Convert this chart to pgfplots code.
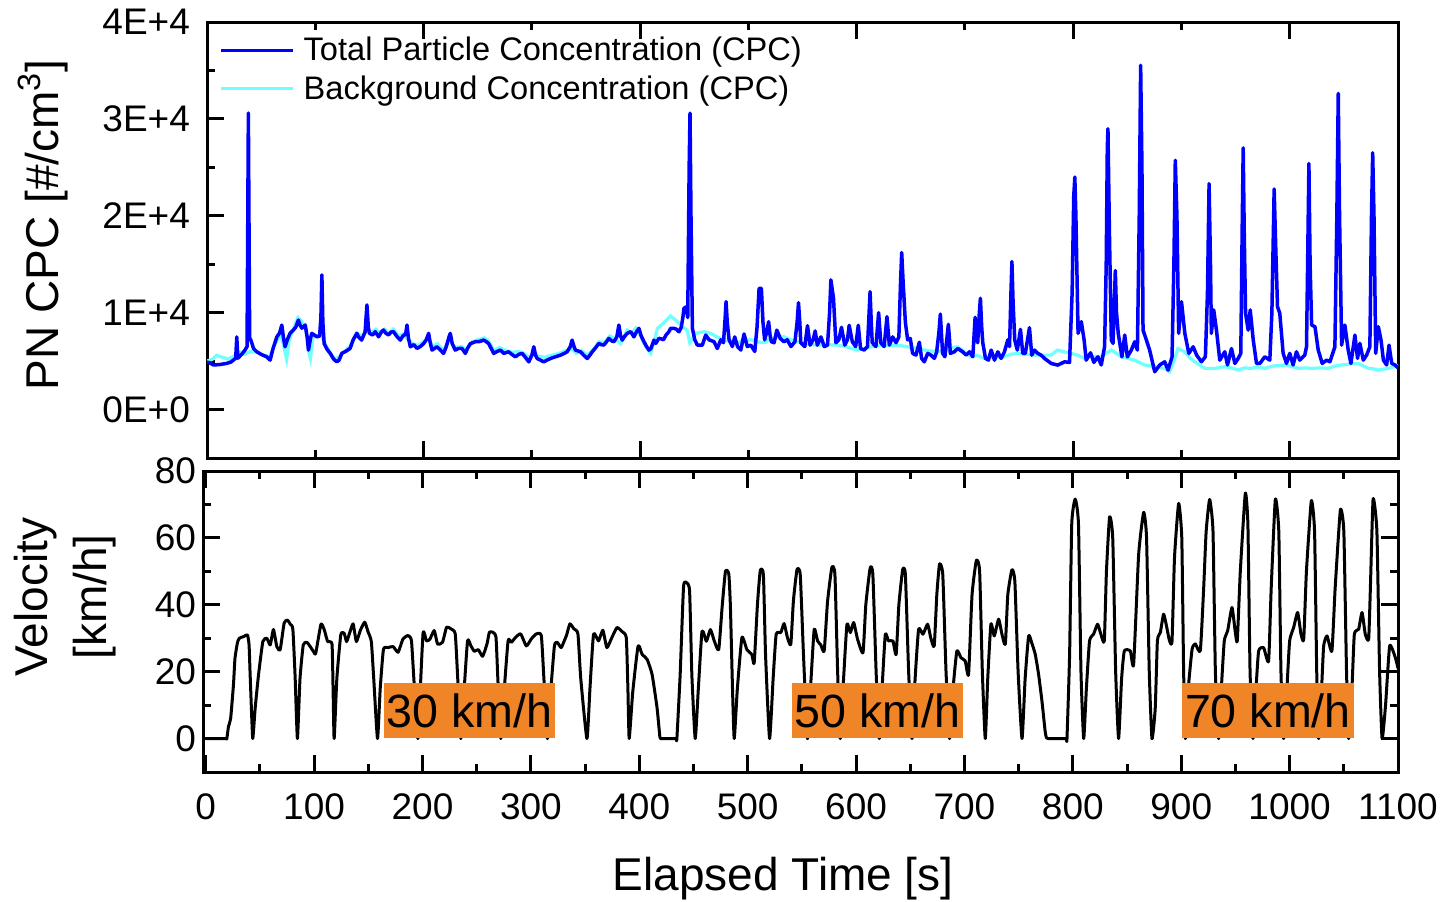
\documentclass[border=0pt]{standalone}
\usepackage{fontspec}
\setmainfont{Liberation Sans}
\usepackage{pgfplots}
\pgfplotsset{compat=1.18}
\definecolor{cpcblue}{RGB}{0,0,255}
\definecolor{bgcyan}{RGB}{110,255,255}
\definecolor{boxorange}{RGB}{240,133,40}
\newcommand{\tickfont}{\fontsize{18.5}{22}\selectfont}
\newcommand{\labfont}{\fontsize{23}{29.5}\selectfont}
\newcommand{\legfont}{\fontsize{16.3}{20}\selectfont}
\newcommand{\boxfont}{\fontsize{23.3}{28}\selectfont}
\pgfplotsset{common/.style={
  scale only axis,
  axis line style={line width=1.5pt},
  every tick/.style={line width=1.5pt, black},
  major tick length=8.5pt, minor tick length=4pt,
  tick align=inside,
  tick label style={font=\tickfont},
  /pgf/number format/assume math mode=true,
}}

\pgfplotstableread{
t v
0 4900
2 4850
6 4600
12 4650
18 4760
22 4900
24.3 5100
26.5 5300
27.5 7500
28.5 5300
32 5700
35.1 6140
37 6500
38.2 30600
39.4 7400
40.5 7170
43 6300
46 5960
50 5700
55.2 5440
58.3 5100
61 6300
64.5 7500
67 7900
69.1 8725
70.5 7500
72.1 6480
74.5 7300
76.7 7866
79.8 8213
82 8500
84.4 9243
86 8700
87.6 8400
90.7 8725
92.5 7500
93.7 6138
95.5 7300
96.8 7866
99 7700
101.5 7514
104 7600
105.2 9500
106.1 13900
107 9000
108.2 6800
111 6200
113.8 5796
117 5200
119.9 4927
122 5100
124.5 5796
128 6000
132.2 6313
135 7200
138.4 7866
140 7500
142.8 7170
146 8000
147.7 10800
149 8500
150 7866
153 7700
155.4 8040
158.5 7514
161 8000
163 8213
165 7900
167.7 7700
170 8000
172.3 8040
175 7600
178.5 7170
181 7600
183.5 7800
184.7 8725
186 7400
187.8 6480
191 6700
193.9 6313
197 6500
200 6800
202.5 7200
204.7 7866
206 7000
207.8 6138
210 6300
212.4 6480
215 6200
218.5 5796
221 6500
223.5 7500
224.7 7866
226.5 6800
229.3 6138
232 6300
235.5 6313
238.6 5796
241 6400
243.2 6800
245.5 6900
247.8 7000
251 7000
255.6 7170
258 7000
260.2 6800
262.5 6300
264.8 5796
268 6000
271 6138
274 5800
278.6 5960
281.5 5700
284.8 5444
288 5700
291 5800
294 5400
297.2 4927
300 5600
301.8 6480
303.5 5600
304.9 5270
308 5100
311 4927
314 5100
317.2 5270
322 5450
326.5 5620
330 5800
332.6 5960
335.5 6500
337.2 7170
339 6500
340.3 6138
344.9 5960
348 5600
351.2 5270
353.5 5600
355.8 5960
359 6400
361.9 6830
364 6700
366.5 6660
369 7000
371.1 7350
373.5 7100
375.8 7000
378.5 7500
380.4 8725
382 7600
383.5 7170
386 7600
388.2 7866
391.3 8040
394.3 7500
396.5 8000
398.9 8380
401 7600
403.6 7000
406 6500
408.2 6138
410 6300
412.8 7170
414.4 6830
417.4 7350
419.5 7300
421.5 7200
424 7700
426.6 8030
428.2 8380
431.3 8380
433.5 8300
435.9 8030
438 8500
439.5 9500
440.5 10450
442.5 10600
444 9500
445.3 25000
446.1 30600
447 20000
448.3 8380
450.5 7200
452.9 6650
457.5 6650
460.6 7690
463.7 7200
468.3 7000
471.3 6300
474.5 7200
477 6900
478.3 9000
479.4 11140
480.5 9000
482.2 7200
485.2 6500
487.4 7500
490 6500
493 6140
496 7800
499 6500
502.2 6650
505.9 6000
508 8500
509.9 12520
512 12520
513.5 9000
515 7200
517 8000
518.7 9070
520 7700
521.2 7000
523.8 6900
526.3 8200
529.4 7350
532.8 7000
535.9 7200
539.3 6500
543 7000
545 9000
546.3 11030
547.5 9000
548.4 6900
552.1 6500
554.6 8650
557 6650
559.8 7200
561.7 8110
563.7 6650
567 7500
570.1 6500
573.1 6650
575 10000
576.2 13380
578.6 11500
580.8 6900
583.5 7200
586 8490
589 6650
591.5 7200
593.1 8700
596 7000
599.1 6500
601.5 8700
603.6 6300
607 6140
610 6500
611.5 10000
612.4 12170
613.5 9000
614.4 6900
617.8 6500
620.3 10000
622.3 6900
625.4 6500
628 9580
630.2 6650
633.3 7500
636.4 6900
639 7500
640.5 13000
641.6 16210
643 13000
645 9000
647.1 7200
649.5 7350
651.7 5800
654.8 5620
657.9 6950
660 5280
662.5 4927
665.6 5800
668.7 5620
671.8 5280
673.9 5950
676 8000
677.3 9860
678.5 7500
679.4 5800
681.5 5450
683.5 7500
684.7 8800
685.8 7200
686.5 5800
690.2 5960
693.4 6300
698 5960
701.1 5620
704.2 5960
707.3 5450
709.4 9520
711 7200
711.8 6900
713.3 10000
714.3 11490
715.5 8500
716.5 6900
719 5280
721.7 5100
724.2 6140
727.3 5100
730.4 5960
733.4 5280
736.5 5960
739.6 7200
741.2 6500
742.5 12000
743.4 15280
744.5 11000
746 7200
748.4 6140
751.3 8280
753.4 5800
755.8 5800
759.6 8450
761.7 5620
764.2 6140
767.3 5800
770.3 5620
773.5 5280
779.7 4760
785.8 4590
792 4927
796.6 4870
799 12000
800.5 22000
801.5 24000
802.5 20000
804.5 7866
807.5 9070
810.1 7170
812 5100
816 5860
819.1 4870
822.8 5450
825.9 4600
829 6480
830.5 15000
831.5 27000
832.1 28980
833.5 18000
835.2 7170
836.8 6830
838 11000
838.9 14350
840 10000
841.6 7866
845 5440
847.6 7690
850 5440
853.7 6140
856.8 7000
859.3 6140
861 20000
862.3 35530
863.5 25000
864.5 8200
867.6 7170
870.6 6140
875.3 3900
879.9 4600
884.5 4930
887.6 4070
891.3 5440
893 15000
894.3 25730
895.8 20000
897.4 7866
900 11140
903.1 7866
906.8 5800
910.8 6480
914 5620
918.4 4930
922.1 5450
924 12000
925.5 23320
926.8 15000
927.6 7866
929.8 10280
932.3 8200
935.4 5100
940 5960
942.5 4600
946.2 6300
949.3 4760
952.4 5280
954.8 5800
956 18000
957 27010
958 18000
959.2 9930
961.6 8200
963.5 10280
966.3 7170
969.3 4760
972.4 4760
977 5450
981.6 5100
983.5 10000
985.6 22770
987 17000
988.7 10620
990.8 9930
993.9 5800
997 4760
1000 5800
1003.1 4600
1006.2 5960
1009.3 5100
1013.9 5620
1015.5 6500
1016.5 15000
1017.7 25390
1018.8 15000
1020.2 8725
1023.3 8550
1026.3 6140
1030 4760
1034 5100
1037.1 4930
1041.7 6480
1043.5 20000
1044.8 32630
1046 20000
1047.9 6650
1050.9 8725
1054 6140
1056.5 4760
1060.2 7690
1062.6 5280
1064.8 6830
1067.9 5100
1071 5620
1074 6480
1075.5 20000
1076.6 26500
1077.8 20000
1079.4 5800
1081.8 8550
1084.3 7170
1086.5 5100
1089.5 4600
1091.7 6650
1094.2 4760
1097.3 4600
1100 4300
}\totalcpc

\pgfplotstableread{
t v
0 5000
5 5200
9 5600
14 5400
20 5200
26 5600
30 5960
35 5700
40 6000
46 5960
52 5600
58 5500
63 6800
68 7800
71 6500
73.5 5200
76 7200
80 8400
84 9500
88 9000
91 8500
93.5 6200
95.5 5280
98 7600
102 7500
106 7600
109 6800
113 6000
118 5200
122 5400
126 5900
132 6500
138 7900
143 7600
148 8300
152 8000
156 8300
160 7900
164 8300
168 7900
172 8300
177 7600
181 7800
186 7200
190 6800
195 6600
200 7000
205 7400
208 6500
213 6800
218 6100
224 7200
229 6400
235 6500
240 6200
245 7000
250 7200
256 7400
260 7100
265 6100
270 6400
276 6100
282 5900
288 6000
293 5800
297 5400
302 5800
306 5500
312 5400
318 5600
325 5800
332 6100
337 6300
341 5800
346 6100
351 5600
357 6200
362 7000
367 6900
372 7600
377 7300
382 6800
388 8200
392 7900
396 8400
400 7700
404 6700
409.7 5800
413 7000
416 8380
421.5 8900
428.2 9650
432.8 9240
438.9 8550
443.5 8200
445.9 6900
451.4 7866
459.1 8040
465.3 7866
471 7500
477.6 7200
484 7000
490 6900
496 7100
502.2 7200
508 7000
514.5 6900
520 7300
526 7400
532.8 7520
539 7200
545.2 7000
553 6800
563.7 6650
572 6700
582.2 6650
590 6500
600.7 6140
610 6400
619.2 6650
628 6600
637.7 6650
646 6500
656.2 6300
665 6100
674.7 5960
683 6200
693.1 6500
699 6000
705.5 5450
711 5600
717.8 5280
727 5400
736.3 5450
742 5700
748.6 5800
756 5700
764 5620
773.3 5620
779.4 5620
785.6 6140
791.7 5960
797.9 5800
804 5620
810.5 5280
816 5500
825.9 5450
830 5800
835.2 6140
840 5800
844.4 5450
850 5300
856.8 5100
866 4600
875.3 4420
884.5 4250
889.1 3900
893 5000
896.8 6300
903.1 5960
908 5300
912.3 4930
921.6 4250
930.8 4250
940 4420
946 4300
952.4 4080
958 4300
964.7 4250
970 4400
977 4250
985 4500
995.5 4600
1000 4500
1007.8 4250
1015 4300
1020.2 4250
1028 4300
1035.6 4250
1042 4500
1047.9 4600
1055 4700
1063.3 4760
1068 4500
1072.6 4250
1077 4200
1081.8 4080
1088 4200
1091.1 4250
1096 4400
1100 4600
}\bgcpc

\pgfplotstableread{
t v
0 0
18.5 0
19.5 0
21 3.6
23 6
25.6 16.1
27 24
29.3 28.7
31 30
35 30.5
38.5 31
40 28
41 19
42.5 6
43.4 0
44.5 4
45.6 9
48.7 19
52.7 29
56.4 30
59.5 28
62.5 32.6
65.6 27.5
68.7 26.6
72.4 34.6
75.5 35.4
78 34.2
80.4 32.7
82.5 18.4
84.6 0
87 18
90 28
93.3 28.8
96.4 27.5
99.5 26
101.5 25.5
106.3 34.2
109.4 32.5
112.5 29
116.5 28.3
117.5 15
118.5 0
121 18
124.6 31
127.7 31.5
130 29
133 31.8
136 34.3
139 29
142.7 32.4
146.7 34.8
149.7 32
152.8 29
155 18
158.5 0
161 15
164 26.7
168.3 27.2
172.9 27.5
177.5 25.8
182 29.8
186.7 30.8
189.8 29.3
192 18
195.7 0
198 15
200.6 31.8
203.7 29.2
206.8 29.7
210.8 32.3
213.9 28.3
218.5 28.8
222.2 33.3
226.2 32.8
230.2 31.3
232.5 18
235.4 0
238.5 15
241.6 29.3
244.7 27.7
247.8 26.1
251.5 26.6
255.5 24.6
259.5 28.3
261.7 31.8
264.8 31.8
267.8 30.3
269.5 18
272.3 0
275.5 15
279 29.3
282 28.8
286 30.3
290.6 31.3
295.8 27.7
300.4 29.8
305 31.3
309.6 30.8
312 18
315.3 0
318.5 15
321.7 27.7
324.2 28.8
327.9 27.2
330.5 29
333 31
336 34.3
339.7 32.8
343.4 31.3
346 18
351.7 0
354.5 15
357.8 31.2
362.4 29.2
366.4 32.4
370.1 27.2
374.7 30.2
379.4 33.2
384 32
388 30.2
389.5 15
390.7 0
394 14
398.9 27.7
402.6 25.2
407.2 23.7
411.8 19.2
416.4 9.2
419 0.5
420 0
420.8 0
433.5 0
434.2 0
434.7 0
437.7 19
440.8 45.2
443.3 46.7
446.4 44.2
448.5 19.2
451.6 0
454.5 15
457.9 32.1
461.9 29.1
465.6 32.6
469.3 29.1
473.3 26.6
476.4 39.2
479.5 50
482.6 49.2
484.1 39.2
486 15
487.6 0
490.5 15
494.7 30.2
499.3 26.6
503.9 25.1
506 22.6
509 40
511.6 50.2
514.5 49
516.5 25
520.2 0
523.5 18
526.3 31.2
530.6 31.7
533.6 34.4
536.7 30.2
539.8 28.2
542.2 41.2
545.5 50.5
548.5 49
551.5 25
555.2 0
558.5 18
561.4 32.7
564.5 29.2
567.5 28
570.6 26.2
573.7 41
577.7 51.2
580.5 49
583 20
585.4 0
588.5 18
591.6 34.2
594.7 31.7
597.8 34.7
601.4 29.7
606.4 25.7
609 40
613 51
615.5 49
618.5 20
621.4 0
624.5 18
627 31.2
630 29.2
634 29.2
637 25.2
639.5 40
643 50.5
645.5 49
648.5 20
651.6 0
654.5 18
657.7 32.7
661.7 31.2
666 34.2
669 30
672.1 27.7
674.5 43
677 52.2
680 49
683 20
686.3 0
689.5 15
693 26.2
696.7 24.2
700.7 23.2
703.8 19.2
707 43
711 53.3
714 50
716.5 20
719.2 0
721.5 18
724.4 34.2
727.5 30.7
731.5 35.7
734.6 31.2
737.7 28.2
740 43
743.8 50.5
746.5 47
749.5 20
753.1 0
756 18
759.2 30.7
762.2 28.5
765.3 25.2
768.4 19.2
771.5 11.2
774.5 2
775.6 0.3
776.6 0
777.4 0
793.6 0
794.2 0
794.6 0
797 25
799 64.3
802.2 71.6
805.2 64
807.5 20
810 0
812.5 15
815.4 29.2
819.1 31.2
822.8 34.2
825.9 31.2
829 29.2
831 50
833.9 66.3
836.8 60
839.5 20
842.2 0
845 18
847.5 26.2
853 26.2
856.1 22.2
860.7 55
865.3 67.6
868 60
870.5 20
873 0
876 9
878 29.2
880.7 31.7
883.7 37.2
886.2 34
889.2 29.2
891.5 29.2
893.8 54.2
897.6 70.3
900.5 60
902.2 20
903.8 0
906.5 15
910 26.7
913 28.3
917.6 26.3
920.7 45
923 62
926.2 71.5
929.3 62
931.5 20
934.5 0
937 15
939.7 29.2
942.8 32.2
946.8 39.2
949.8 32
951.7 29.2
954.5 50
959.1 73.3
961.5 64
963.5 20
966.2 0
969 15
971.4 26.2
976 27.2
980.6 23.2
983 45
986.8 71.5
990 62
992 20
994.5 0
997.5 15
1000 29.2
1003.7 33.2
1007.4 37.7
1010.5 31.2
1013 29.7
1015.5 50
1020 71.1
1023 62
1025 20
1026.8 0
1029.5 15
1031.4 27.7
1034.5 30.7
1039 26.2
1042 45
1046.8 68.3
1050 62
1052.5 20
1054.5 0
1057.5 15
1059.7 31.2
1063.7 32.7
1066.8 37.7
1069.8 31.2
1072.9 29.7
1074.5 45
1077 71.6
1080.5 62
1083 20
1085.3 0
1088.5 10
1092.3 27.7
1097.5 24.2
1100 21
}\velocity

\begin{document}
\begin{tikzpicture}
\useasboundingbox (0,0) rectangle (721.5pt,-450.5pt);
% top panel
\begin{axis}[common,
  at={(103.5pt,-11pt)}, anchor=north west,
  width=595.5pt, height=218pt,
  xmin=0, xmax=1100, ymin=-5000, ymax=40000,
  xtick={0,200,...,1000}, minor xtick={100,300,...,1100},
  xticklabels={}, xtick pos=both,
  ytick={0,10000,20000,30000,40000},
  yticklabels={0E+0,1E+4,2E+4,3E+4,4E+4},
  minor ytick={5000,15000,25000,35000},
  ytick pos=left, scaled y ticks=false,
  yticklabel style={xshift=-5pt},
  ylabel={PN CPC [\#/cm\textsuperscript{3}]},
  ylabel style={font=\labfont, at={(axis description cs:-0.138,0.535)}, anchor=center},
  legend style={draw=none, fill=none, font=\legfont,
    at={(axis description cs:0.005,0.985)}, anchor=north west,
    row sep=2pt},
  legend cell align=left,
  legend image code/.code={\draw[#1] (0pt,0pt) -- (36pt,0pt); \path (38.5pt,0pt);},
]
\addlegendimage{cpcblue, line width=1.65pt}
\addlegendentry{Total Particle Concentration (CPC)}
\addlegendimage{bgcyan, line width=1.5pt}
\addlegendentry{Background Concentration (CPC)}
\addplot[bgcyan, line width=1.6pt, forget plot] table[x=t,y=v] {\bgcpc};
\addplot[cpcblue, line width=1.75pt, line join=round, forget plot] table[x=t,y=v] {\totalcpc};
\end{axis}
% bottom panel
\begin{axis}[common,
  at={(101.5pt,-235.5pt)}, anchor=north west,
  width=597.5pt, height=150.5pt,
  xmin=-2.5, xmax=1100, ymin=-10, ymax=80,
  xtick={0,100,...,1100},
  xticklabels={0,100,200,300,400,500,600,700,800,900,1000,1100},
  minor xtick={50,150,...,1050},
  xtick pos=both, ytick pos=both,
  xticklabel style={yshift=-7.5pt},
  ytick={0,20,...,80}, minor ytick={10,30,50,70},
  xlabel={Elapsed Time [s]},
  xlabel style={font=\labfont, at={(axis description cs:0.4854,-0.353)}, anchor=center},
  ylabel={Velocity\\{[km/h]}},
  ylabel style={font=\labfont, align=center, at={(axis description cs:-0.115,0.581)}, anchor=center},
]
\addplot[black, line width=1.5pt, line join=round, smooth, tension=0.3] table[x=t,y=v] {\velocity};
\fill[boxorange] (axis cs:164.6,0.3) rectangle (axis cs:322.4,16.5);
\fill[boxorange] (axis cs:541,0.3) rectangle (axis cs:699,16.5);
\fill[boxorange] (axis cs:901,0.3) rectangle (axis cs:1059,16.5);
\node[font=\boxfont, inner sep=0pt] at (axis cs:243.5,8.2) {30 km/h};
\node[font=\boxfont, inner sep=0pt] at (axis cs:620,8.2) {50 km/h};
\node[font=\boxfont, inner sep=0pt] at (axis cs:980,8.2) {70 km/h};
\end{axis}
\end{tikzpicture}
\end{document}
